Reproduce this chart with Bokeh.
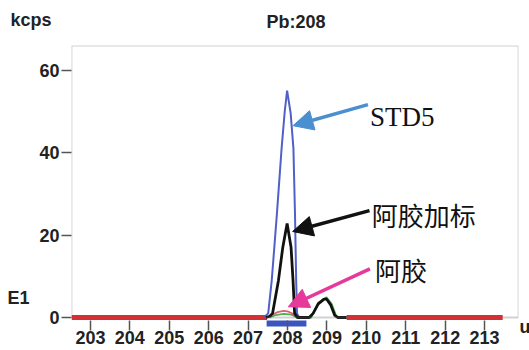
from bokeh.plotting import figure
from bokeh.models import Range1d, FixedTicker, Label, Arrow, NormalHead, BoxAnnotation
from bokeh.embed import file_html
from bokeh.resources import INLINE

# ---- data ----
x_ticks = [203, 204, 205, 206, 207, 208, 209, 210, 211, 212, 213]
y_ticks = [0, 20, 40, 60]

std5_x = [207.40, 207.51, 207.60, 207.73, 207.85, 207.93, 207.99, 208.08, 208.15, 208.19, 208.22, 208.24, 208.30]
std5_y = [0, 1, 9, 25, 41, 50, 55, 49.5, 41, 25, 9, 1, 0]

spiked_x = [207.45, 207.55, 207.62, 207.77, 207.88, 207.99, 208.09, 208.14, 208.18, 208.25,
            208.55, 208.65, 208.78, 208.92, 208.99, 209.10, 209.20, 209.28, 209.50]
spiked_y = [0, 0.3, 1, 9, 17, 22.8, 17, 9, 1, 0,
            0, 1, 3.3, 4.4, 4.5, 3, 0.5, 0, 0]

sample_x = [207.50, 207.60, 207.75, 207.90, 208.00, 208.10, 208.20, 208.25]
sample_y = [0, 0.6, 1.3, 1.6, 1.5, 1.1, 0.4, 0]

sample2_x = [207.55, 207.70, 207.90, 208.10, 208.24, 208.60, 208.78, 208.99, 209.12, 209.25]
sample2_y = [0, 0.6, 0.9, 0.7, 0, 0, 3.6, 4.9, 3.3, 0]

base_start = [202.52, 209.50]
base_end = [207.48, 213.46]

window_start = [207.47]
window_end = [208.48]

TICK_FONT = "Liberation Sans"

p = figure(width=529, height=350, output_backend="svg", toolbar_location=None,
           x_range=Range1d(202.519, 213.861), y_range=Range1d(-3.15, 65.94),
           min_border_left=71, min_border_right=10, min_border_top=45, min_border_bottom=20)
p.background_fill_color = "white"
p.border_fill_color = "white"
p.outline_line_color = None
p.xgrid.visible = False
p.ygrid.visible = False

# axes
p.xaxis.ticker = FixedTicker(ticks=x_ticks)
p.yaxis.ticker = FixedTicker(ticks=y_ticks)
for ax in (p.xaxis[0], p.yaxis[0]):
    ax.axis_line_color = None
    ax.major_tick_line_color = "#555555"
    ax.major_tick_line_width = 1.5
    ax.minor_tick_line_color = None
    ax.major_label_text_font = TICK_FONT
    ax.major_label_text_font_size = "18px"
    ax.major_label_text_font_style = "bold"
    ax.major_label_text_color = "#222222"
p.xaxis.major_tick_in = 10
p.xaxis.major_tick_out = 0
p.xaxis.major_label_standoff = 0
p.yaxis.major_tick_in = 0
p.yaxis.major_tick_out = 10
p.yaxis.major_label_standoff = 2

# frame (left, top, right sides, bottom at zero)
p.add_layout(BoxAnnotation(bottom=0, fill_alpha=0, line_color="#666666", line_width=1.8))

# baseline segments and acquisition window
p.segment(x0=base_start, y0=[0, 0], x1=base_end, y1=[0, 0], line_color="#e8262b", line_width=5)
p.quad(left=window_start, right=window_end, top=[-0.75], bottom=[-2.2], fill_color="#3b55c0", line_color=None)

# traces
p.line(sample2_x, sample2_y, line_color="#4caf50", line_width=1.8)
p.line(sample_x, sample_y, line_color="#e06070", line_width=1.8)
p.line(std5_x, std5_y, line_color="#5060c8", line_width=2)
p.line(spiked_x, spiked_y, line_color="#111111", line_width=2.8)

# arrows
p.add_layout(Arrow(x_start=210.04, y_start=51.6, x_end=208.14, y_end=46.5,
                   line_color="#4a90d0", line_width=3.5,
                   end=NormalHead(size=20, fill_color="#4a90d0", line_color="#4a90d0")))
p.add_layout(Arrow(x_start=210.08, y_start=25.9, x_end=208.13, y_end=20.85,
                   line_color="#111111", line_width=3.5,
                   end=NormalHead(size=20, fill_color="#111111", line_color="#111111")))
p.add_layout(Arrow(x_start=210.09, y_start=11.8, x_end=208.02, y_end=2.6,
                   line_color="#e6399b", line_width=3.5,
                   end=NormalHead(size=20, fill_color="#e6399b", line_color="#e6399b")))

# annotation texts
p.add_layout(Label(x=210.09, y=48.5, text="STD5", text_font="Liberation Serif",
                   text_font_size="27px", text_color="#111111", text_baseline="alphabetic"))
p.add_layout(Label(x=210.14, y=25.0, text="阿胶加标", text_font="Noto Sans CJK SC",
                   text_font_size="26px", text_color="#111111", text_baseline="middle"))
p.add_layout(Label(x=210.22, y=11.6, text="阿胶", text_font="Noto Sans CJK SC",
                   text_font_size="26px", text_color="#111111", text_baseline="middle"))

# outer labels placed in side panels
def outer(x, y, text, side):
    p.add_layout(Label(x=x, y=y, x_units="screen", y_units="screen", text=text,
                       text_font=TICK_FONT, text_font_size="18px", text_font_style="bold",
                       text_color="#222222", text_baseline="alphabetic"), side)

outer(-61, 26, "kcps", "above")
outer(195, 4, "Pb:208", "above")
outer(-7, 33, "E1", "left")
outer(1, 4, "u", "right")

open("out.html", "w").write(file_html(p, INLINE))
